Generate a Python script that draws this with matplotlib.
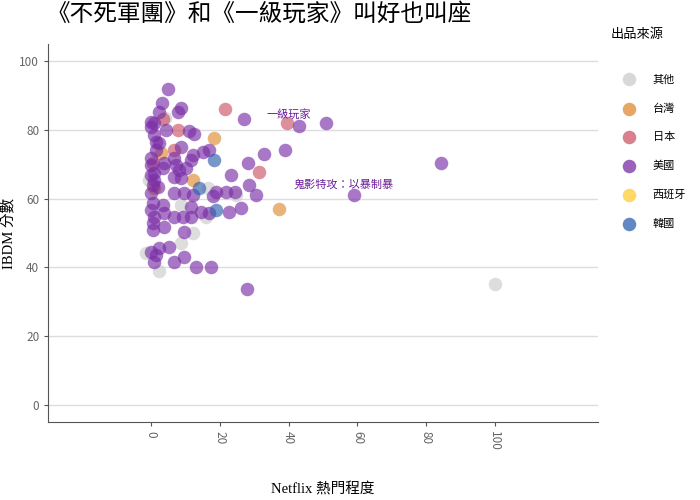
import numpy as np
import matplotlib
matplotlib.use("Agg")
import matplotlib.pyplot as plt

plt.rcParams['font.family'] = ['Noto Sans CJK TC', 'DejaVu Sans']

categories = ["其他", "台灣", "日本", "美國", "西班牙", "韓國"]
colors = {"其他": "#cccccc", "台灣": "#e08a30", "日本": "#cc5566",
          "美國": "#7a2ea6", "西班牙": "#ffcc33", "韓國": "#2f5fae"}

# (Netflix popularity, IBDM score) per source
usa_x = [4.9, 3.2, 8.7, 7.8, 2.3, 0.0, 0.9, 0.0, 4.4, 11.0, 12.5, 0.9, 1.5, 2.3, 8.7,
         0.0, 6.7, 7.3, 12.2, 15.1, 16.9, 11.6, 10.2, 8.1, 3.8, 3.5, 0.9, 0.9, 23.3, 28.2,
         6.7, 8.7, 0.0, 2.0, 6.7, 9.6, 12.2, 18.9, 21.8, 24.4, 18.0, 28.5, 30.5, 0.6, 3.5,
         11.6, 14.5, 16.9, 22.7, 26.2, 0.9, 3.8, 6.7, 9.3, 11.6, 0.6, 3.8, 9.6, 0.0, 2.3,
         5.2, 1.5, 0.9, 6.7, 9.6, 13.1, 17.4, 27.9, 27.0, 32.8, 39.0, 43.0, 50.9, 59.0, 84.3,
         0.0, 0.0, 0.6, 1.5, 0.0, 0.6]
usa_y = [91.9, 87.8, 86.3, 85.2, 85.2, 82.3, 82.0, 80.8, 79.9, 79.7, 78.8, 78.5, 76.5, 76.2, 75.0,
         71.8, 71.8, 69.8, 72.7, 73.5, 74.1, 71.2, 68.9, 68.3, 70.3, 68.9, 67.4, 65.4, 66.9, 70.3,
         66.3, 66.0, 61.6, 63.4, 61.6, 61.6, 61.0, 61.9, 61.9, 61.9, 60.8, 64.0, 61.0, 58.7, 58.1,
         57.6, 56.1, 55.8, 56.1, 57.3, 54.7, 55.8, 54.7, 54.7, 54.7, 50.9, 51.7, 50.3, 44.5, 45.6,
         45.9, 43.6, 41.6, 41.6, 43.0, 40.1, 40.1, 33.7, 83.1, 73.0, 74.1, 81.1, 82.0, 61.0, 70.3,
         69.8, 66.9, 64.0, 74.1, 56.7, 52.9]

tw_x = [18.3, 2.9, 12.2, 0.9, 37.2]
tw_y = [77.6, 73.3, 65.4, 63.1, 57.0]

jp_x = [3.5, 7.8, 6.7, 0.6, 21.5, 39.5, 31.4]
jp_y = [83.1, 79.9, 74.1, 70.3, 86.0, 82.0, 67.7]

kr_x = [18.3, 14.0, 18.9]
kr_y = [71.2, 63.1, 56.7]

other_x = [24.7, 16.6, 8.7, 16.0, 12.2, 8.7, 2.3, -1.5, 100.0, -0.6, 4.0]
other_y = [61.0, 63.1, 58.1, 54.7, 50.0, 47.1, 39.0, 44.2, 35.2, 65.4, 83.5]

es_x = []
es_y = []

series = {"其他": (other_x, other_y), "台灣": (tw_x, tw_y), "日本": (jp_x, jp_y),
          "美國": (usa_x, usa_y), "西班牙": (es_x, es_y), "韓國": (kr_x, kr_y)}

notes = [("一級玩家", 40.1, 84.6), ("鬼影特攻：以暴制暴", 56.1, 64.2)]

fig = plt.figure(figsize=(7, 5), dpi=100)
ax = fig.add_axes([0.069, 0.156, 0.785, 0.756])

for cat in categories:
    xs, ys = series[cat]
    ax.scatter(xs, ys, s=95, color=colors[cat], alpha=0.65, linewidths=0, label=cat)

for txt, nx, ny in notes:
    ax.text(nx, ny, txt, color="#6a1b9a", fontsize=8, ha="center", va="center")

ax.set_xlim(-30, 130)
ax.set_ylim(-5, 105)
ax.set_xticks(np.arange(0, 101, 20))
ax.set_yticks(np.arange(0, 101, 20))
ax.tick_params(axis="x", labelrotation=-90, colors="#555555", labelsize=8.5, length=3)
ax.tick_params(axis="y", colors="#555555", labelsize=8.5, length=3)
for lab in ax.get_xticklabels() + ax.get_yticklabels():
    lab.set_color("#666666")
ax.grid(axis="y", color="#dddddd", linewidth=1)
ax.set_axisbelow(True)
for sp in ["top", "right"]:
    ax.spines[sp].set_visible(False)
for sp in ["left", "bottom"]:
    ax.spines[sp].set_color("#555555")

serif = ['Liberation Serif', 'Noto Sans CJK TC']
ax.set_xlabel("Netflix 熱門程度", family=serif, fontsize=10.5, labelpad=23)
ax.set_ylabel("IBDM 分數", family=serif, fontsize=10.5, labelpad=3)

fig.text(0.066, 0.972, "《不死軍團》和《一級玩家》叫好也叫座", fontsize=17, va="center", ha="left")

leg = ax.legend(title="出品來源\n", loc="upper left", bbox_to_anchor=(1.005, 1.07),
                frameon=False, fontsize=8, title_fontsize=9.5, labelspacing=1.68,
                handletextpad=0.4, handlelength=3.4, borderpad=0.4)
leg._legend_box.align = "left"
for h in leg.legend_handles:
    h.set_alpha(0.75)

fig.savefig("out.png", dpi=100)
